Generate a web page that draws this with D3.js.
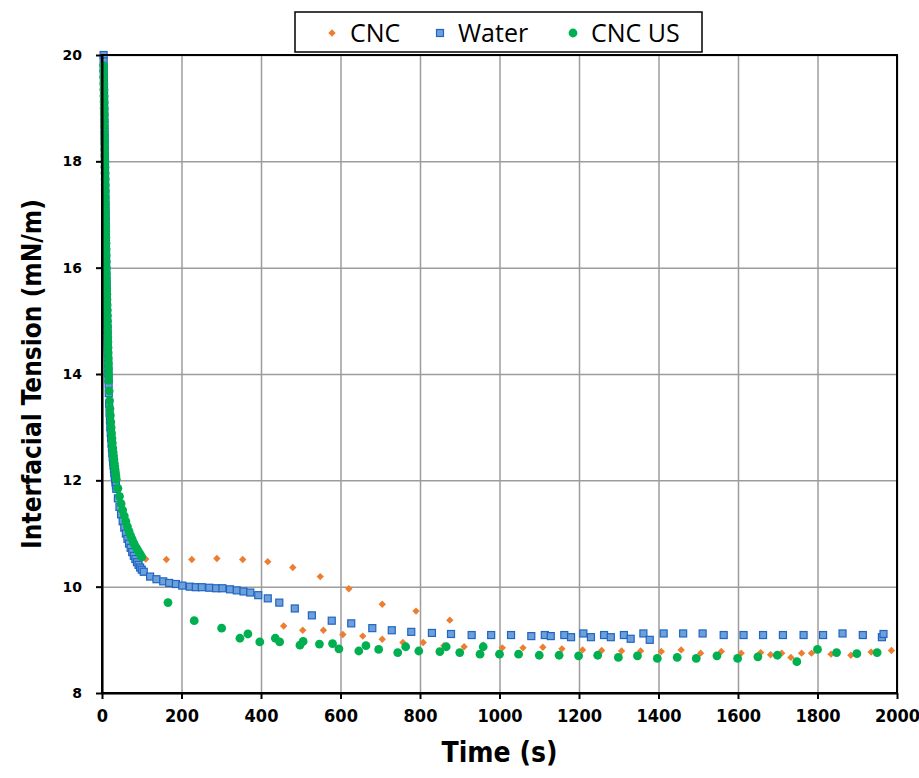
<!DOCTYPE html>
<html>
<head>
<meta charset="utf-8">
<script src="https://cdn.jsdelivr.net/npm/d3@7/dist/d3.min.js"></script>
<style>
  body { margin: 0; background: #fff; }
</style>
</head>
<body>
<div id="root"></div>
<script>
const SVG_WIDTH = 919;
const SVG_HEIGHT = 778;
const PLOT = { left: 102, right: 897, top: 55, bottom: 693 };

const xTicks = [0, 200, 400, 600, 800, 1000, 1200, 1400, 1600, 1800, 2000];
const yTicks = [8, 10, 12, 14, 16, 18, 20];
const seriesNames = ['CNC', 'Water', 'CNC US'];

// early part of the run (s), shared by the three drops
const earlyTime = [
  4.0, 4.2, 4.4, 4.6, 4.8, 5.0, 5.2, 5.4, 5.6, 5.8, 6.0, 6.2, 6.4, 6.6, 6.8, 7.0, 7.2, 7.4, 7.6, 7.8,
  8.0, 8.2, 8.4, 8.6, 8.8, 9.0, 9.2, 9.4, 9.6, 9.8, 10.0, 10.2, 10.4, 10.6, 10.8,
  11.0, 11.3, 11.6, 11.9, 12.2, 12.5, 12.8, 13.1, 13.4, 13.7, 14.0, 14.3, 14.6, 14.9, 15.2, 15.5, 15.8, 16.1, 16.4, 16.7,
  17, 18, 19, 20, 21, 22, 23, 24, 25, 26, 27, 28, 29, 30, 31, 32, 33, 34, 35, 36,
  40, 44, 48, 52, 56, 60, 64, 68, 72, 76, 80, 84, 88, 92, 96, 100
];
const cncEarly = [
  19.9, 19.78, 19.66, 19.54, 19.42, 19.3, 19.18, 19.06, 18.95, 18.83, 18.71, 18.6, 18.48, 18.37, 18.25, 18.14, 18.02, 17.91, 17.8, 17.68,
  17.57, 17.46, 17.35, 17.24, 17.13, 17.02, 16.91, 16.8, 16.69, 16.58, 16.47, 16.36, 16.25, 16.14, 16.03,
  15.92, 15.82, 15.72, 15.62, 15.52, 15.42, 15.32, 15.22, 15.12, 15.02, 14.92, 14.82, 14.72, 14.62, 14.52, 14.42, 14.32, 14.22, 14.12, 14.02,
  13.9, 13.68, 13.5, 13.34, 13.2, 13.07, 12.95, 12.84, 12.74, 12.65, 12.57, 12.5, 12.43, 12.36, 12.29, 12.23, 12.17, 12.11, 12.05, 11.99,
  11.82, 11.67, 11.53, 11.41, 11.3, 11.2, 11.1, 11.01, 10.93, 10.86, 10.8, 10.74, 10.69, 10.64, 10.6, 10.56
];
const waterEarly = [
  20.0, 19.88, 19.76, 19.64, 19.52, 19.4, 19.28, 19.16, 19.04, 18.92, 18.8, 18.68, 18.56, 18.44, 18.32, 18.2, 18.08, 17.96, 17.84, 17.72,
  17.6, 17.48, 17.36, 17.24, 17.12, 17.0, 16.88, 16.76, 16.64, 16.52, 16.4, 16.28, 16.16, 16.04, 15.92,
  15.8, 15.7, 15.59, 15.48, 15.37, 15.26, 15.15, 15.04, 14.93, 14.82, 14.71, 14.6, 14.5, 14.4, 14.3, 14.2, 14.1, 14.0, 13.9, 13.8,
  13.64, 13.44, 13.27, 13.13, 13.0, 12.89, 12.79, 12.69, 12.6, 12.51, 12.43, 12.35, 12.28, 12.21, 12.14, 12.08, 12.02, 11.96, 11.9, 11.84,
  11.66, 11.5, 11.36, 11.23, 11.11, 11.0, 10.9, 10.81, 10.73, 10.65, 10.58, 10.52, 10.46, 10.41, 10.36, 10.32
];
const usEarly = [
  19.8, 19.7, 19.58, 19.46, 19.35, 19.23, 19.12, 19.0, 18.9, 18.78, 18.67, 18.55, 18.44, 18.33, 18.22, 18.1, 18.0, 17.89, 17.78, 17.67,
  17.56, 17.45, 17.34, 17.23, 17.12, 17.01, 16.9, 16.79, 16.68, 16.57, 16.46, 16.35, 16.24, 16.12, 16.0,
  15.9, 15.8, 15.7, 15.6, 15.5, 15.4, 15.3, 15.2, 15.1, 15.0, 14.9, 14.8, 14.7, 14.6, 14.5, 14.4, 14.3, 14.2, 14.1, 14.0,
  13.88, 13.68, 13.5, 13.35, 13.22, 13.1, 12.99, 12.89, 12.79, 12.7, 12.61, 12.53, 12.46, 12.39, 12.32, 12.26, 12.2, 12.14, 12.08, 12.02,
  11.85, 11.7, 11.56, 11.44, 11.33, 11.23, 11.13, 11.04, 10.96, 10.89, 10.82, 10.76, 10.71, 10.66, 10.61, 10.56
];

// later readings [time s, tension mN/m]
const cncLate = [
  [110, 10.52], [162, 10.51], [226, 10.51], [289, 10.53], [354, 10.51], [417, 10.47], [457, 9.26], [480, 10.36],
  [505, 9.18], [549, 10.19], [557, 9.18], [606, 9.1], [621, 9.96], [656, 9.07], [705, 9.67], [705, 9.01],
  [757, 8.95], [790, 9.54], [808, 8.95], [860, 8.89], [875, 9.37], [911, 8.87], [959, 8.9], [1007, 8.85],
  [1059, 8.85], [1109, 8.86], [1157, 8.83], [1209, 8.81], [1257, 8.8], [1307, 8.79], [1355, 8.79], [1407, 8.78],
  [1457, 8.81], [1506, 8.75], [1558, 8.78], [1608, 8.75], [1657, 8.76], [1682, 8.72], [1710, 8.75], [1733, 8.67],
  [1760, 8.75], [1785, 8.75], [1834, 8.73], [1884, 8.71], [1935, 8.77], [1986, 8.8]
];
const waterLate = [
  [105, 10.28], [121, 10.19], [137, 10.14], [154, 10.1], [169, 10.07], [186, 10.05], [202, 10.02], [221, 10.0],
  [236, 9.99], [251, 9.99], [270, 9.98], [287, 9.97], [303, 9.97], [322, 9.95], [339, 9.93], [356, 9.91],
  [373, 9.89], [393, 9.84], [417, 9.78], [446, 9.7], [485, 9.59], [528, 9.46], [578, 9.36], [627, 9.31],
  [680, 9.22], [729, 9.18], [778, 9.15], [830, 9.13], [878, 9.11], [930, 9.09], [979, 9.09], [1029, 9.09],
  [1080, 9.07], [1114, 9.09], [1129, 9.07], [1163, 9.09], [1180, 9.05], [1211, 9.12], [1230, 9.05], [1263, 9.09],
  [1280, 9.05], [1313, 9.09], [1330, 9.02], [1362, 9.12], [1378, 9.0], [1413, 9.12], [1462, 9.12], [1511, 9.12],
  [1564, 9.09], [1614, 9.09], [1663, 9.09], [1713, 9.09], [1765, 9.09], [1814, 9.09], [1863, 9.12], [1914, 9.09],
  [1962, 9.05], [1966, 9.11]
];
const usLate = [
  [166, 9.7], [232, 9.36], [301, 9.22], [347, 9.03], [367, 9.11], [397, 8.96], [436, 9.03], [447, 8.96],
  [498, 8.9], [506, 8.97], [547, 8.92], [580, 8.93], [596, 8.83], [646, 8.79], [664, 8.89], [696, 8.82],
  [744, 8.76], [764, 8.87], [797, 8.79], [850, 8.78], [866, 8.87], [900, 8.76], [951, 8.73], [959, 8.87],
  [1000, 8.73], [1048, 8.73], [1100, 8.71], [1150, 8.71], [1199, 8.7], [1247, 8.71], [1299, 8.67], [1347, 8.7],
  [1397, 8.65], [1447, 8.67], [1495, 8.65], [1547, 8.7], [1599, 8.65], [1650, 8.68], [1699, 8.71], [1748, 8.59],
  [1800, 8.82], [1848, 8.76], [1899, 8.74], [1950, 8.76]
];

const xScale = d3.scaleLinear().domain([0, 2000]).range([PLOT.left, PLOT.right]);
const yScale = d3.scaleLinear().domain([8, 20]).range([PLOT.bottom, PLOT.top]);

/**
 * svg container
 */
function addSvg() {
  const svg = document.createElementNS('http://www.w3.org/2000/svg', 'svg');
  svg.id = 'svg';
  svg.setAttribute('width', SVG_WIDTH);
  svg.setAttribute('height', SVG_HEIGHT);
  return svg;
}

function joinEarly(values) {
  return earlyTime.map((t, i) => [t, values[i]]);
}

/**
 * grid lines
 */
function drawGrid() {
  const svg = d3.select('#svg');
  const w = PLOT.right - PLOT.left;
  const h = PLOT.bottom - PLOT.top;
  const gx = svg.append('g')
    .attr('transform', `translate(0,${PLOT.bottom})`)
    .call(d3.axisBottom(xScale).tickValues(xTicks).tickSize(-h).tickFormat(''));
  const gy = svg.append('g')
    .attr('transform', `translate(${PLOT.left},0)`)
    .call(d3.axisLeft(yScale).tickValues(yTicks).tickSize(-w).tickFormat(''));
  [gx, gy].forEach((g) => {
    g.select('.domain').remove();
    g.selectAll('line').attr('stroke', '#9c9c9c').attr('stroke-width', 1.5);
  });
}

/**
 * markers
 */
function drawPoints() {
  const svg = d3.select('#svg');
  const cnc = joinEarly(cncEarly).concat(cncLate);
  const water = joinEarly(waterEarly).concat(waterLate);
  const us = joinEarly(usEarly).concat(usLate);

  svg.append('g').selectAll('rect').data(cnc).join('rect')
    .attr('x', -2.6).attr('y', -2.6).attr('width', 5.2).attr('height', 5.2)
    .attr('transform', (d) => `translate(${xScale(d[0])},${yScale(d[1])}) rotate(45)`)
    .attr('fill', '#ED7D31');

  svg.append('g').selectAll('rect').data(water).join('rect')
    .attr('x', (d) => xScale(d[0]) - 3.5).attr('y', (d) => yScale(d[1]) - 3.5)
    .attr('width', 7).attr('height', 7)
    .attr('fill', '#6E9FD9').attr('stroke', '#1F66C4').attr('stroke-width', 1.2);

  svg.append('g').selectAll('circle').data(us).join('circle')
    .attr('cx', (d) => xScale(d[0])).attr('cy', (d) => yScale(d[1])).attr('r', 4.4)
    .attr('fill', '#00B050');
}

/**
 * axes, frame and titles
 */
function drawAxes() {
  const svg = d3.select('#svg');
  svg.append('rect')
    .attr('x', PLOT.left).attr('y', PLOT.top)
    .attr('width', PLOT.right - PLOT.left).attr('height', PLOT.bottom - PLOT.top)
    .attr('fill', 'none').attr('stroke', '#000').attr('stroke-width', 2);

  const ax = svg.append('g')
    .attr('transform', `translate(0,${PLOT.bottom})`)
    .call(d3.axisBottom(xScale).tickValues(xTicks).tickSize(6).tickSizeOuter(0).tickPadding(10)
      .tickFormat(d3.format('d')));
  ax.selectAll('text')
    .attr('font-family', "'Liberation Sans Narrow', 'DejaVu Sans Condensed', sans-serif")
    .attr('font-weight', 'bold').attr('font-size', 18).attr('fill', '#000');

  const ay = svg.append('g')
    .attr('transform', `translate(${PLOT.left},0)`)
    .call(d3.axisLeft(yScale).tickValues(yTicks).tickSize(6).tickSizeOuter(0).tickPadding(14));
  ay.selectAll('text')
    .attr('font-family', "'DejaVu Sans', sans-serif")
    .attr('font-weight', 'bold').attr('font-size', 14).attr('fill', '#000');

  [ax, ay].forEach((g) => {
    g.select('.domain').attr('stroke', '#000').attr('stroke-width', 2);
    g.selectAll('.tick line').attr('stroke', '#000').attr('stroke-width', 2);
  });

  svg.append('text')
    .attr('x', (PLOT.left + PLOT.right) / 2).attr('y', 762)
    .attr('text-anchor', 'middle')
    .attr('font-family', "'Liberation Sans Narrow', 'DejaVu Sans Condensed', sans-serif")
    .attr('font-weight', 'bold').attr('font-size', 28)
    .text('Time (s)');

  svg.append('text')
    .attr('transform', `translate(41,${(PLOT.top + PLOT.bottom) / 2}) rotate(-90)`)
    .attr('text-anchor', 'middle')
    .attr('font-family', "'Liberation Sans Narrow', 'DejaVu Sans Condensed', sans-serif")
    .attr('font-weight', 'bold').attr('font-size', 26)
    .text('Interfacial Tension (mN/m)');
}

/**
 * legend box
 */
function drawLegend() {
  const svg = d3.select('#svg');
  const g = svg.append('g');
  g.append('rect')
    .attr('x', 295).attr('y', 12).attr('width', 407).attr('height', 40)
    .attr('fill', '#fff').attr('stroke', '#000').attr('stroke-width', 1.5);
  const itemX = [332, 440, 573];
  seriesNames.forEach((name, i) => {
    const cx = itemX[i];
    const cy = 33;
    if (i === 0) {
      g.append('rect').attr('x', -2.6).attr('y', -2.6).attr('width', 5.2).attr('height', 5.2)
        .attr('transform', `translate(${cx},${cy}) rotate(45)`).attr('fill', '#ED7D31');
    } else if (i === 1) {
      g.append('rect').attr('x', cx - 3.5).attr('y', cy - 3.5).attr('width', 7).attr('height', 7)
        .attr('fill', '#6E9FD9').attr('stroke', '#1F66C4').attr('stroke-width', 1.2);
    } else {
      g.append('circle').attr('cx', cx).attr('cy', cy).attr('r', 4.4).attr('fill', '#00B050');
    }
    g.append('text')
      .attr('x', cx + 18).attr('y', cy + 9)
      .attr('font-family', "'Open Sans', sans-serif").attr('font-size', 25)
      .text(name);
  });
}

function main() {
  drawGrid();
  drawPoints();
  drawAxes();
  drawLegend();
}

const root = document.getElementById('root');
root.appendChild(addSvg());
main();
</script>
</body>
</html>
